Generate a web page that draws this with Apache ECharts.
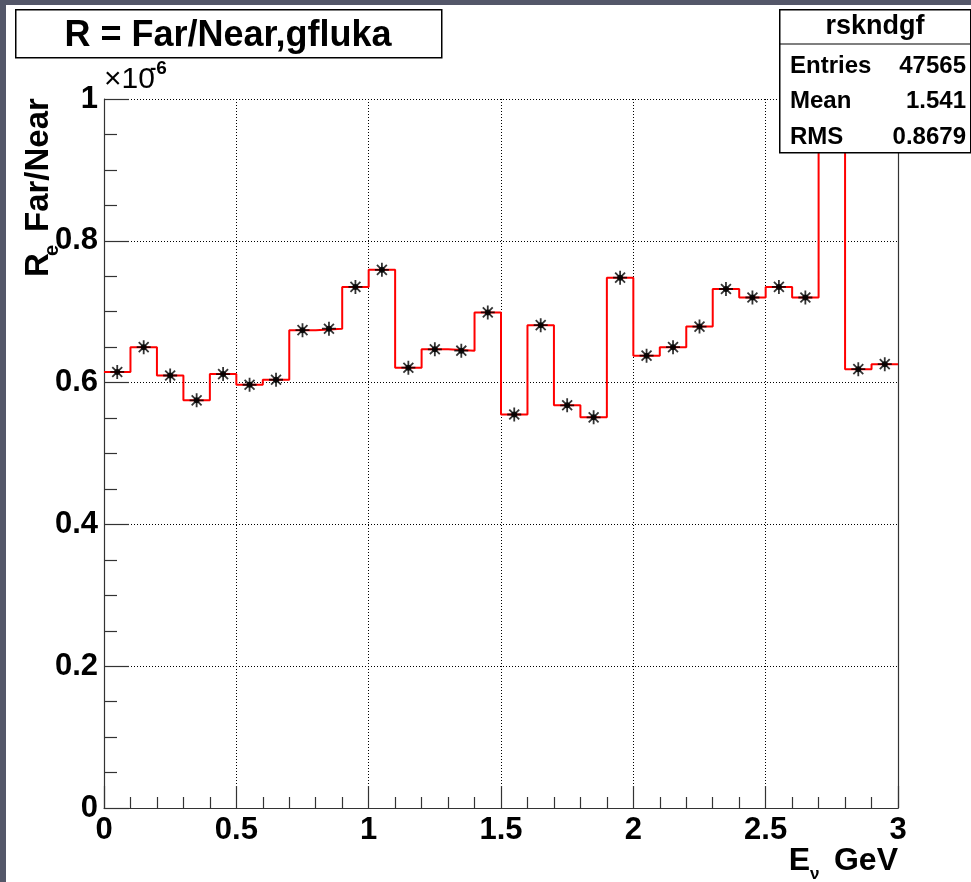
<!DOCTYPE html>
<html>
<head>
<meta charset="utf-8">
<script src="https://cdn.jsdelivr.net/npm/echarts@6/dist/echarts.min.js"></script>
<style>
  html, body { margin: 0; padding: 0; background: #545769; }
  #chart {
    width: 971px; height: 882px;
    background: #ffffff;
    box-shadow: inset 6px 5px 0 0 #545769;
  }
</style>
</head>
<body>
<div id="chart"></div>
<script>
// Far/Near ratio per 0.1 GeV bin of neutrino energy (values in units of 1e-6)
const binLow = [0.0, 0.1, 0.2, 0.3, 0.4, 0.5, 0.6, 0.7, 0.8, 0.9,
                1.0, 1.1, 1.2, 1.3, 1.4, 1.5, 1.6, 1.7, 1.8, 1.9,
                2.0, 2.1, 2.2, 2.3, 2.4, 2.5, 2.6, 2.7, 2.8, 2.9];
const binUp = 3.0;
const binCentre = [0.05, 0.15, 0.25, 0.35, 0.45, 0.55, 0.65, 0.75, 0.85, 0.95,
                   1.05, 1.15, 1.25, 1.35, 1.45, 1.55, 1.65, 1.75, 1.85, 1.95,
                   2.05, 2.15, 2.25, 2.35, 2.45, 2.55, 2.65, 2.75, 2.85, 2.95];
const ratio = [0.615, 0.650, 0.610, 0.575, 0.612, 0.597, 0.604, 0.674, 0.676, 0.735,
               0.759, 0.621, 0.647, 0.645, 0.699, 0.555, 0.681, 0.568, 0.551, 0.748,
               0.638, 0.650, 0.679, 0.732, 0.720, 0.735, 0.720, 1.350, 0.619, 0.626];

// Statistics box entries
const statTitle = 'rskndgf';
const statNames = ['Entries', 'Mean', 'RMS'];
const statValues = ['47565', '1.541', '0.8679'];

const FONT = '"Liberation Sans", Arial, Helvetica, sans-serif';

// Histogram outline: each bin's level held from its lower edge to the next edge
const stepData = binLow.map((x, i) => [x, ratio[i]]);
stepData.push([binUp, ratio[ratio.length - 1]]);
const markerData = binCentre.map((x, i) => [x, ratio[i]]);

const ASTERISK = 'path://M0,-10L0,10M-10,0L10,0M-7.07,-7.07L7.07,7.07M-7.07,7.07L7.07,-7.07';
const axisColor = '#333';

const chart = echarts.init(document.getElementById('chart'), null, { renderer: 'canvas' });

const statRows = [];
statNames.forEach((name, i) => {
  const cy = 66 + i * 35.5;
  statRows.push({
    type: 'text', x: 790, y: cy,
    style: { text: name, font: 'bold 24px ' + FONT, fill: '#000', textVerticalAlign: 'middle' }
  });
  statRows.push({
    type: 'text', x: 966, y: cy,
    style: { text: statValues[i], font: 'bold 24px ' + FONT, fill: '#000', textAlign: 'right', textVerticalAlign: 'middle' }
  });
});

chart.setOption({
  backgroundColor: 'transparent',
  animation: false,
  grid: { left: 104, right: 73, top: 99, bottom: 74, containLabel: false },
  xAxis: {
    type: 'value', min: 0, max: 3, interval: 0.5,
    axisLine: { show: true, onZero: false, lineStyle: { color: axisColor, width: 1.2 } },
    axisTick: { show: true, inside: true, length: 22, lineStyle: { color: axisColor, width: 1.2 } },
    minorTick: { show: true, splitNumber: 5, length: 11, lineStyle: { color: axisColor, width: 1.2 } },
    splitLine: { show: true, lineStyle: { color: '#000', width: 1, type: [1, 2] } },
    axisLabel: { fontSize: 31, fontWeight: 'bold', fontFamily: FONT, color: '#000', margin: 7 }
  },
  yAxis: [{
    type: 'value', min: 0, max: 1, interval: 0.2,
    axisLine: { show: true, onZero: false, lineStyle: { color: axisColor, width: 1.2 } },
    axisTick: { show: true, inside: true, length: 25, lineStyle: { color: axisColor, width: 1.2 } },
    minorTick: { show: true, splitNumber: 4, length: 13, lineStyle: { color: axisColor, width: 1.2 } },
    splitLine: { show: true, lineStyle: { color: '#000', width: 1, type: [1, 2] } },
    axisLabel: { fontSize: 31, fontWeight: 'bold', fontFamily: FONT, color: '#000', margin: 6 }
  }, {
    type: 'value', min: 0, max: 1, position: 'right',
    axisLine: { show: true, onZero: false, lineStyle: { color: axisColor, width: 1.2 } },
    axisTick: { show: false }, axisLabel: { show: false }, splitLine: { show: false }
  }],
  series: [{
    name: 'R', type: 'line', step: 'end', data: stepData,
    showSymbol: false, symbol: 'none', clip: true, silent: true,
    lineStyle: { color: '#ff0000', width: 2 }, z: 3
  }, {
    name: 'R markers', type: 'scatter', data: markerData, clip: true, silent: true,
    symbol: ASTERISK, symbolSize: 14,
    itemStyle: { color: 'rgba(0,0,0,0)', borderColor: '#000', borderWidth: 1.8 }, z: 4
  }, {
    name: 'R marker centres', type: 'scatter', data: markerData, clip: true, silent: true,
    symbol: 'circle', symbolSize: 6,
    itemStyle: { color: '#000' }, z: 5
  }],
  graphic: [
    // title box
    { type: 'rect', left: 15, top: 9, z: 100,
      shape: { width: 426, height: 48 },
      style: { fill: '#fff', stroke: '#000', lineWidth: 1.5 } },
    { type: 'text', x: 228, y: 36, z: 101,
      style: { text: 'R = Far/Near,gfluka', font: 'bold 36px ' + FONT, fill: '#000',
               textAlign: 'center', textVerticalAlign: 'middle' } },
    // statistics box
    { type: 'rect', left: 779, top: 9, z: 100,
      shape: { width: 191, height: 143 },
      style: { fill: '#fff', stroke: '#000', lineWidth: 1.5 } },
    { type: 'line', z: 101,
      shape: { x1: 779, y1: 44, x2: 971, y2: 44 },
      style: { stroke: '#000', lineWidth: 1.2 } },
    { type: 'text', x: 875, y: 27, z: 101,
      style: { text: statTitle, font: 'bold 27px ' + FONT, fill: '#000',
               textAlign: 'center', textVerticalAlign: 'middle' } },
    ...statRows.map(r => Object.assign(r, { z: 101 })),
    // exponent of the y axis
    { type: 'text', left: 104, top: 65, z: 101,
      style: { text: '×10', font: '30px ' + FONT, fill: '#000' } },
    { type: 'text', left: 150, top: 59, z: 101,
      style: { text: '-6', font: 'bold 19px ' + FONT, fill: '#000' } },
    // y axis title, reading upwards
    { type: 'text', x: 39, y: 277, rotation: Math.PI / 2, z: 101,
      style: { text: 'R', font: 'bold 33px ' + FONT, fill: '#000', textAlign: 'left', textVerticalAlign: 'middle' } },
    { type: 'text', x: 52, y: 256, rotation: Math.PI / 2, z: 101,
      style: { text: 'e', font: 'bold 20px ' + FONT, fill: '#000', textAlign: 'left', textVerticalAlign: 'middle' } },
    { type: 'text', x: 39, y: 232, rotation: Math.PI / 2, z: 101,
      style: { text: 'Far/Near', font: 'bold 33px ' + FONT, fill: '#000', textAlign: 'left', textVerticalAlign: 'middle' } },
    // x axis title
    { type: 'text', x: 810, y: 877, z: 101,
      style: { text: 'E', font: 'bold 32px ' + FONT, fill: '#000', textAlign: 'right', textVerticalAlign: 'bottom' } },
    { type: 'text', x: 810, y: 883, z: 101,
      style: { text: 'ν', font: 'bold 17px ' + FONT, fill: '#000', textAlign: 'left', textVerticalAlign: 'bottom' } },
    { type: 'text', x: 898, y: 877, z: 101,
      style: { text: 'GeV', font: 'bold 32px ' + FONT, fill: '#000', textAlign: 'right', textVerticalAlign: 'bottom' } }
  ]
});
</script>
</body>
</html>
